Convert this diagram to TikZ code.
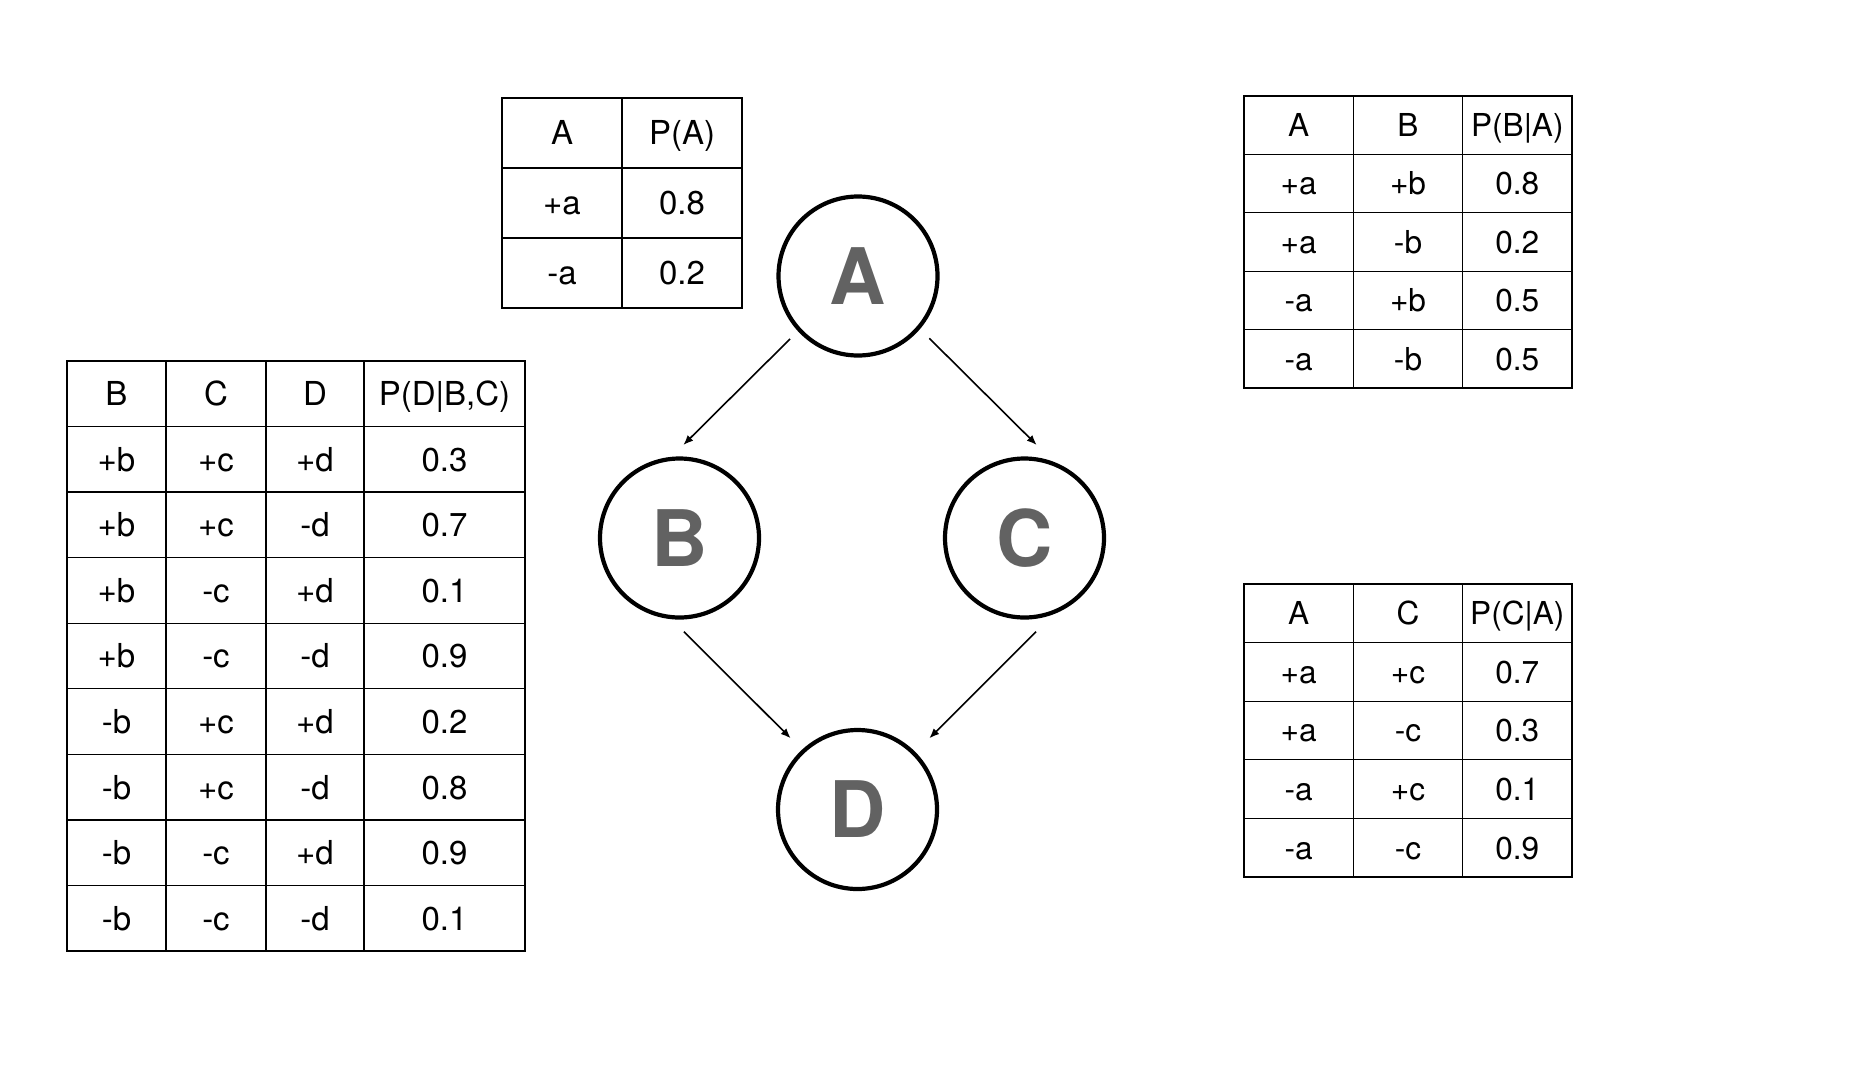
\documentclass[tikz,border=0pt]{standalone}
\usepackage{fontspec}
\setmainfont{TeX Gyre Heros}
\usetikzlibrary{arrows.meta,calc}
\definecolor{nodegray}{HTML}{626262}
\begin{document}
\begin{tikzpicture}[x=0.5pt,y=-0.5pt,
  cell/.style={draw, line width=0.65pt, rectangle, inner sep=0pt, text depth=0pt, anchor=center},
  bigcell/.style={cell, text height=11.85pt, font=\fontsize{16.5}{16.5}\selectfont},
  smallcell/.style={cell, text height=11.35pt, font=\fontsize{15.8}{15.8}\selectfont},
  var/.style={circle, draw, line width=2.1pt, minimum size=79.5pt, inner sep=0pt, font=\fontsize{39}{39}\selectfont\bfseries, text=nodegray},
  edge/.style={-{Latex[length=5pt,width=4pt]}, line width=0.8pt}]
\useasboundingbox (0,0) rectangle (1850,1076);

% P(A)
\foreach \r/\a/\b in {0/A/P(A),1/+a/0.8,2/-a/0.2}{
  \node[bigcell, minimum width=60pt, minimum height=35pt] (pa-\r-0) at (562,{133+70*\r}) {\a};
  \node[bigcell, minimum width=60pt, minimum height=35pt] (pa-\r-1) at (682,{133+70*\r}) {\b};
}

% P(B|A)
\foreach \r/\a/\b/\c in {0/A/B/P(B|A),1/+a/+b/0.8,2/+a/-b/0.2,3/-a/+b/0.5,4/-a/-b/0.5}{
  \node[smallcell, minimum width=54.67pt, minimum height=29.2pt] (pb-\r-0) at (1298.7,{125.2+58.4*\r}) {\a};
  \node[smallcell, minimum width=54.67pt, minimum height=29.2pt] (pb-\r-1) at (1408,{125.2+58.4*\r}) {\b};
  \node[smallcell, minimum width=54.67pt, minimum height=29.2pt] (pb-\r-2) at (1517.3,{125.2+58.4*\r}) {\c};
}

% P(C|A)
\foreach \r/\a/\b/\c in {0/A/C/P(C|A),1/+a/+c/0.7,2/+a/-c/0.3,3/-a/+c/0.1,4/-a/-c/0.9}{
  \node[smallcell, minimum width=54.67pt, minimum height=29.3pt] (pc-\r-0) at (1298.7,{613.3+58.6*\r}) {\a};
  \node[smallcell, minimum width=54.67pt, minimum height=29.3pt] (pc-\r-1) at (1408,{613.3+58.6*\r}) {\b};
  \node[smallcell, minimum width=54.67pt, minimum height=29.3pt] (pc-\r-2) at (1517.3,{613.3+58.6*\r}) {\c};
}

% P(D|B,C)
\foreach \r/\a/\b/\c/\d in {0/B/C/D/{P(D|B,C)},1/+b/+c/+d/0.3,2/+b/+c/-d/0.7,3/+b/-c/+d/0.1,4/+b/-c/-d/0.9,5/-b/+c/+d/0.2,6/-b/+c/-d/0.8,7/-b/-c/+d/0.9,8/-b/-c/-d/0.1}{
  \node[bigcell, minimum width=49.5pt, minimum height=32.78pt] (pd-\r-0) at (116.5,{393.8+65.56*\r}) {\a};
  \node[bigcell, minimum width=50pt, minimum height=32.78pt] (pd-\r-1) at (216,{393.8+65.56*\r}) {\b};
  \node[bigcell, minimum width=49pt, minimum height=32.78pt] (pd-\r-2) at (315,{393.8+65.56*\r}) {\c};
  \node[bigcell, minimum width=80.5pt, minimum height=32.78pt] (pd-\r-3) at (444.5,{393.8+65.56*\r}) {\d};
}

% network
\node[var] (A) at (858,276) {A};
\node[var] (B) at (679.5,538) {B};
\node[var] (C) at (1024.5,538) {C};
\node[var] (D) at (857.5,809.5) {D};

\draw[edge] ($(A.center)+(-68,63)$) -- ($(B.center)+(3.8,-93)$);
\draw[edge] ($(A.center)+(71.3,62.3)$) -- ($(C.center)+(12.2,-93)$);
\draw[edge] ($(B.center)+(4.5,93.7)$) -- ($(D.center)+(-66.8,-71.2)$);
\draw[edge] ($(C.center)+(11.5,93.7)$) -- ($(D.center)+(71.8,-71.2)$);
\end{tikzpicture}
\end{document}
